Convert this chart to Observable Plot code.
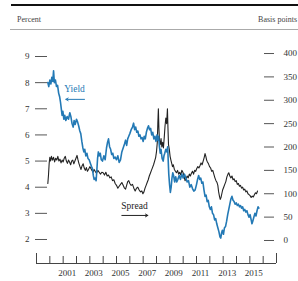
<!DOCTYPE html>
<html><head><meta charset="utf-8">
<script src="https://cdn.jsdelivr.net/npm/d3@7"></script>
<script src="https://cdn.jsdelivr.net/npm/@observablehq/plot@0.6"></script>
<style>
html,body{margin:0;padding:0;background:#fff;overflow:hidden;width:298px;height:281px;}
#hdr{position:relative;width:298px;height:30px;font-family:"Liberation Serif",serif;color:#444;font-size:8px;}
#hdr .thick{position:absolute;left:11px;right:0;top:4px;height:2px;background:#111;}
#hdr .thin{position:absolute;left:10px;right:0;top:29px;height:1px;background:#aaa;}
#hdr .l{position:absolute;left:17px;top:15px;white-space:nowrap;}
#hdr .r{position:absolute;right:1px;top:15px;white-space:nowrap;}
#chart svg{display:block;}
</style></head><body>
<div id="hdr"><div class="thick"></div><span class="l">Percent</span><span class="r">Basis points</span><div class="thin"></div></div>
<div id="chart"></div>
<script>
const percentTicks = [2, 3, 4, 5, 6, 7, 8, 9];
const spreadTicks = [0, 50, 100, 150, 200, 250, 300, 350, 400];
const yearTicks = [2000,2001,2002,2003,2004,2005,2006,2007,2008,2009,2010,2011,2012,2013,2014,2015,2016];
const endTicks = [1999, 2017];
const labelYears = [2001, 2003, 2005, 2007, 2009, 2011, 2013, 2015];

// Yield, percent
const yieldData = [
[1999.85,8.0],[1999.92,7.85],[2000.0,8.1],[2000.08,7.95],[2000.15,8.2],[2000.22,8.05],[2000.28,8.45],[2000.34,8.0],
[2000.42,8.1],[2000.5,7.85],[2000.58,7.9],[2000.66,7.6],[2000.74,7.45],[2000.8,7.25],[2000.86,7.0],[2000.92,6.75],
[2000.98,6.9],[2001.05,6.6],[2001.12,6.75],[2001.2,6.55],[2001.3,6.7],[2001.4,6.6],[2001.5,6.85],[2001.58,6.7],
[2001.66,6.45],[2001.75,6.3],[2001.82,6.55],[2001.9,6.4],[2002.0,6.6],[2002.08,6.5],[2002.16,6.35],[2002.25,6.15],
[2002.32,6.05],[2002.4,5.75],[2002.48,5.5],[2002.55,5.35],[2002.62,5.45],[2002.7,5.2],[2002.78,5.3],[2002.86,5.1],
[2002.95,5.05],[2003.05,4.9],[2003.12,4.8],[2003.2,4.7],[2003.26,4.45],[2003.32,4.3],[2003.4,4.35],[2003.47,4.25],
[2003.52,4.6],[2003.58,5.1],[2003.64,5.35],[2003.7,5.2],[2003.78,5.3],[2003.86,5.05],[2003.95,5.0],[2004.05,5.2],
[2004.15,5.05],[2004.25,5.5],[2004.32,5.7],[2004.4,5.85],[2004.48,5.55],[2004.56,5.45],[2004.64,5.25],[2004.72,5.3],
[2004.8,5.1],[2004.9,5.15],[2005.0,5.05],[2005.1,5.2],[2005.2,4.95],[2005.3,5.05],[2005.4,5.35],[2005.5,5.5],
[2005.6,5.65],[2005.68,5.8],[2005.76,5.6],[2005.84,5.85],[2005.92,5.95],[2006.0,6.05],[2006.1,6.2],[2006.2,6.3],
[2006.28,6.45],[2006.36,6.2],[2006.44,6.3],[2006.52,6.1],[2006.6,6.15],[2006.68,5.95],[2006.76,6.0],[2006.84,5.85],
[2006.92,5.9],[2007.0,5.75],[2007.08,5.95],[2007.16,5.85],[2007.24,6.1],[2007.32,6.25],[2007.4,6.35],[2007.48,6.2],
[2007.56,6.25],[2007.64,6.0],[2007.72,6.1],[2007.8,5.85],[2007.88,5.95],[2007.96,5.75],[2008.04,6.0],[2008.1,5.8],
[2008.16,5.95],[2008.22,5.55],[2008.28,5.3],[2008.34,5.45],[2008.42,5.1],[2008.5,5.0],[2008.56,5.2],[2008.62,5.3],
[2008.7,5.45],[2008.78,5.35],[2008.84,5.55],[2008.88,5.0],[2008.92,4.5],[2008.98,4.1],[2009.04,3.8],[2009.1,4.0],
[2009.16,4.35],[2009.22,4.55],[2009.28,4.45],[2009.36,4.2],[2009.44,4.4],[2009.52,4.2],[2009.6,4.3],[2009.7,4.45],
[2009.8,4.3],[2009.9,4.5],[2010.0,4.35],[2010.1,4.5],[2010.2,4.35],[2010.3,4.2],[2010.4,4.25],[2010.5,4.0],
[2010.6,4.1],[2010.7,3.95],[2010.8,3.85],[2010.9,3.9],[2011.0,4.1],[2011.08,4.3],[2011.16,4.45],[2011.24,4.3],
[2011.32,4.35],[2011.4,4.15],[2011.48,4.2],[2011.56,3.9],[2011.64,3.65],[2011.72,3.7],[2011.8,3.45],[2011.88,3.5],
[2011.96,3.25],[2012.04,3.15],[2012.12,3.25],[2012.2,3.0],[2012.28,2.95],[2012.36,2.75],[2012.44,2.8],[2012.52,2.6],
[2012.6,2.45],[2012.68,2.3],[2012.76,2.1],[2012.82,2.05],[2012.88,2.25],[2012.94,2.35],[2013.02,2.2],[2013.1,2.45],
[2013.18,2.5],[2013.26,2.7],[2013.34,2.95],[2013.42,3.15],[2013.5,3.35],[2013.58,3.55],[2013.66,3.65],[2013.74,3.5],
[2013.82,3.45],[2013.9,3.35],[2013.98,3.4],[2014.06,3.3],[2014.14,3.35],[2014.22,3.25],[2014.3,3.3],[2014.38,3.2],
[2014.46,3.25],[2014.54,3.1],[2014.62,3.15],[2014.7,3.05],[2014.78,3.1],[2014.86,2.95],[2014.94,2.85],[2015.02,2.95],
[2015.1,2.75],[2015.16,2.6],[2015.22,2.7],[2015.3,2.85],[2015.38,3.0],[2015.46,2.9],[2015.54,3.1],[2015.62,3.25],
[2015.68,3.2]
];

// Spread, basis points
const spreadData = [
[1999.85,122],[1999.9,140],[1999.95,165],[2000.0,178],[2000.06,170],[2000.12,180],[2000.2,172],[2000.28,178],
[2000.36,168],[2000.44,176],[2000.52,172],[2000.6,180],[2000.68,170],[2000.76,174],[2000.84,166],[2000.92,172],
[2001.0,168],[2001.08,176],[2001.16,180],[2001.24,170],[2001.32,165],[2001.4,172],[2001.48,168],[2001.56,162],
[2001.64,170],[2001.72,172],[2001.8,164],[2001.88,170],[2001.96,176],[2002.04,182],[2002.1,174],[2002.18,165],
[2002.26,158],[2002.34,152],[2002.42,160],[2002.5,164],[2002.58,155],[2002.66,150],[2002.74,156],[2002.82,148],
[2002.9,152],[2003.0,158],[2003.08,154],[2003.16,150],[2003.24,146],[2003.32,152],[2003.4,148],[2003.5,144],
[2003.6,150],[2003.7,146],[2003.8,142],[2003.9,146],[2004.0,145],[2004.1,140],[2004.2,146],[2004.3,138],
[2004.4,140],[2004.5,134],[2004.6,136],[2004.7,128],[2004.8,130],[2004.9,122],[2005.0,118],[2005.1,112],
[2005.2,116],[2005.3,120],[2005.4,124],[2005.5,118],[2005.6,112],[2005.68,110],[2005.76,118],[2005.84,126],
[2005.92,128],[2006.0,122],[2006.1,118],[2006.2,120],[2006.3,112],[2006.4,106],[2006.5,112],[2006.6,114],
[2006.7,108],[2006.8,104],[2006.9,106],[2006.98,100],[2007.06,104],[2007.14,112],[2007.22,118],[2007.3,124],
[2007.38,130],[2007.46,138],[2007.54,144],[2007.62,150],[2007.7,156],[2007.78,162],[2007.86,170],[2007.94,178],
[2008.0,190],[2008.06,210],[2008.1,250],[2008.14,282],[2008.18,240],[2008.22,215],[2008.28,205],[2008.34,218],
[2008.4,200],[2008.46,210],[2008.52,198],[2008.58,220],[2008.64,245],[2008.7,262],[2008.76,250],[2008.82,282],
[2008.86,240],[2008.9,205],[2008.96,195],[2009.02,180],[2009.08,172],[2009.14,165],[2009.2,158],[2009.26,162],
[2009.34,152],[2009.42,148],[2009.5,145],[2009.58,150],[2009.66,142],[2009.74,146],[2009.82,140],[2009.9,150],
[2009.98,146],[2010.06,138],[2010.14,128],[2010.22,132],[2010.3,138],[2010.38,134],[2010.46,142],[2010.54,138],
[2010.62,144],[2010.7,148],[2010.78,142],[2010.86,150],[2010.94,148],[2011.02,154],[2011.1,158],[2011.18,155],
[2011.26,160],[2011.34,166],[2011.42,162],[2011.5,170],[2011.58,178],[2011.64,186],[2011.7,180],[2011.76,172],
[2011.82,168],[2011.9,164],[2011.98,158],[2012.06,155],[2012.14,148],[2012.22,150],[2012.3,142],[2012.38,134],
[2012.46,128],[2012.54,124],[2012.6,118],[2012.66,104],[2012.72,95],[2012.78,88],[2012.84,92],[2012.9,100],
[2012.96,108],[2013.04,114],[2013.12,120],[2013.2,126],[2013.28,136],[2013.36,142],[2013.42,145],[2013.5,138],
[2013.58,134],[2013.66,138],[2013.74,130],[2013.82,132],[2013.9,126],[2013.98,128],[2014.06,120],[2014.14,122],
[2014.22,116],[2014.3,118],[2014.38,112],[2014.46,114],[2014.54,108],[2014.62,110],[2014.7,104],[2014.78,106],
[2014.86,100],[2014.94,98],[2015.02,96],[2015.1,92],[2015.18,95],[2015.26,93],[2015.34,98],[2015.42,102],
[2015.5,100],[2015.58,106]
];

const annotations = [
  {label: "Yield", x: 2001.85, y: 7.74, color: "#2379b5", ax1: 2002.6, ax2: 2001.2, ay: 7.36},
  {label: "Spread", x: 2006.35, y: 3.3, color: "#222", ax1: 2005.4, ax2: 2007.35, ay: 2.92}
];

// right axis (basis points) mapped onto the percent scale
const spreadToPct = bp => 1.962 + bp * 0.01788;
const yMin = 2 - 24 / 26.14;
const xDomain = [1999, 2017];
const blue = "#2379b5";
const W = 298, H = 251, mT = 26, mB = 18;
const frameH = H - mT - mB;

const plot = Plot.plot({
  width: W, height: H,
  marginLeft: 47, marginRight: 35, marginTop: mT, marginBottom: mB,
  style: {fontFamily: "Liberation Serif", fontSize: "9px", color: "#333", background: "white"},
  x: {domain: xDomain, range: [36, 276]},
  y: {domain: [yMin, 9]},
  marks: [
    Plot.axisY(percentTicks, {anchor: "left", tickSize: 12, tickPadding: 6, tickFormat: d => String(d), label: null, stroke: "#555"}),
    Plot.axisY(spreadTicks.map(spreadToPct), {anchor: "right", tickSize: 10, tickPadding: 10, label: null, stroke: "#555",
      tickFormat: d => String(spreadTicks.find(t => Math.abs(spreadToPct(t) - d) < 1e-9))}),
    Plot.ruleY([yMin], {x1: xDomain[0], x2: xDomain[1], stroke: "#444"}),
    Plot.tickX(yearTicks, {x: d => d, insetTop: frameH - 7, stroke: "#444"}),
    Plot.tickX(endTicks, {x: d => d, insetTop: frameH - 10, stroke: "#444"}),
    Plot.axisX(labelYears.map(d => d + 0.3), {anchor: "bottom", tickSize: 0, tickPadding: 6, label: null,
      tickFormat: d => String(Math.round(d - 0.3))}),
    Plot.line(spreadData, {x: d => d[0], y: d => spreadToPct(d[1]), stroke: "#222", strokeWidth: 1.1}),
    Plot.line(yieldData, {x: d => d[0], y: d => d[1], stroke: blue, strokeWidth: 1.6}),
    Plot.text(annotations, {x: "x", y: "y", text: "label", fill: "color", fontSize: 9.5}),
    Plot.arrow(annotations, {x1: "ax1", x2: "ax2", y1: "ay", y2: "ay", stroke: "color", strokeWidth: 1, headLength: 4})
  ]
});
document.getElementById("chart").appendChild(plot);
</script>
</body></html>
